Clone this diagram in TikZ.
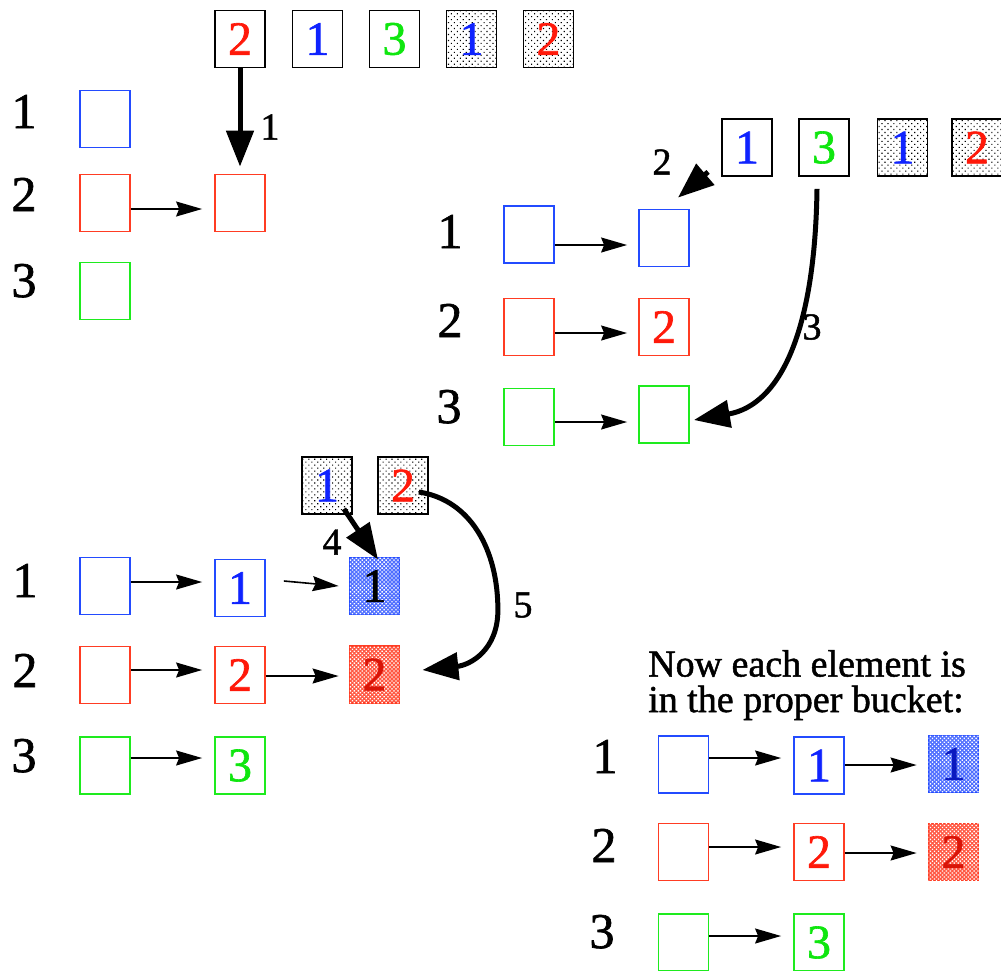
\documentclass[tikz,border=0pt]{standalone}
\usepackage{fontspec}
\setmainfont{Liberation Serif}[FakeBold=1.3]
\usetikzlibrary{arrows.meta,patterns.meta}
\definecolor{cblue}{RGB}{35,75,255}
\definecolor{dblue}{RGB}{15,35,255}
\definecolor{cred}{RGB}{255,60,35}
\definecolor{dred}{RGB}{255,25,10}
\definecolor{cgreen}{RGB}{30,235,30}
\definecolor{dgreen}{RGB}{15,230,15}
\tikzset{
  bx/.style={rectangle, line width=1.8pt, minimum width=50pt, minimum height=57pt, inner sep=0pt, font=\fontsize{48}{48}\selectfont},
  ebox/.style={bx, draw=black},
  gdot/.style={fill=white, postaction={pattern={Dots[distance=4.2pt,radius=0.8pt,angle=45]}, pattern color=black}},
  bluebox/.style={bx, draw=cblue},
  redbox/.style={bx, draw=cred},
  greenbox/.style={bx, draw=cgreen},
  bfill/.style={fill=cblue!80, postaction={pattern={Dots[distance=2.8pt,radius=0.95pt,angle=45]}, pattern color=white}},
  rfill/.style={fill=cred!85, postaction={pattern={Dots[distance=2.8pt,radius=0.95pt,angle=45]}, pattern color=white}},
  lab/.style={font=\fontsize{50}{50}\selectfont, inner sep=0pt, anchor=base},
  alab/.style={font=\fontsize{38}{38}\selectfont, inner sep=0pt},
  link/.style={line width=1.6pt, -{Stealth[length=26pt,width=15pt,inset=3pt]}},
  move/.style={line width=5pt, -{Triangle[length=36pt,width=27pt]}},
}
\begin{document}
\begin{tikzpicture}[x=1pt,y=-1pt]
\useasboundingbox (0,0) rectangle (1001,970);

% ---------- top row ----------
\node[ebox, text=dred]   (t1) at (240,39) {2};
\node[ebox, text=dblue]  (t2) at (317.5,39) {1};
\node[ebox, text=dgreen] (t3) at (394.5,39) {3};
\node[ebox, gdot, text=dblue] (t4) at (471.5,39) {1};
\node[ebox, gdot, text=dred]  (t5) at (548.5,39) {2};

% ---------- section A ----------
\node[lab] (la1) at (24,128) {1};
\node[lab] (la2) at (24,211) {2};
\node[lab] (la3) at (24,297) {3};
\node[bluebox]  (a11) at (105,119) {};
\node[redbox]   (a21) at (105,203) {};
\node[greenbox] (a31) at (105,291) {};
\node[redbox]   (a22) at (240,203) {};
\draw[link] ([shift={(0,6)}]a21.east) -- ([shift={(-12,6)}]a22.west);
\draw[move, shorten >=7pt] (t1.south) -- (a22.north);
\node[alab] (n1) at (270,127) {1};

% ---------- section B ----------
\node[ebox, text=dblue]  (u1) at (747,147.5) {1};
\node[ebox, text=dgreen] (u2) at (824,147.5) {3};
\node[ebox, gdot, text=dblue] (u3) at (902.5,147.5) {1};
\node[ebox, gdot, text=dred]  (u4) at (977,147.5) {2};
\node[lab] (lb1) at (450,248) {1};
\node[lab] (lb2) at (450,337) {2};
\node[lab] (lb3) at (449,423) {3};
\node[bluebox]  (b11) at (529,234.5) {};
\node[redbox]   (b21) at (529,327) {};
\node[greenbox] (b31) at (529,417) {};
\node[bluebox]  (b12) at (664,238) {};
\node[redbox, text=dred] (b22) at (664,327) {2};
\node[greenbox] (b32) at (664,414.5) {};
\draw[link] ([shift={(0,10.5)}]b11.east) -- ([shift={(-11,7)}]b12.west);
\draw[link] ([shift={(0,6)}]b21.east) -- ([shift={(-11,6)}]b22.west);
\draw[link] ([shift={(0,5)}]b31.east) -- ([shift={(-11,7.5)}]b32.west);
\draw[move] ([shift={(-13,-5)}]u1.south west) -- ([shift={(14,-11)}]b12.north);
\node[alab] (n2) at (662,162) {2};
\draw[move] ([shift={(-7,12)}]u2.south) .. controls +(-2,141) and +(87,-15) .. ([shift={(4,5.5)}]b32.east);
\node[alab] (n3) at (812,327) {3};

% ---------- section C ----------
\node[ebox, gdot, text=dblue] (v1) at (327,485.5) {1};
\node[ebox, gdot, text=dred]  (v2) at (403,485.5) {2};
\node[lab] (lc1) at (25,597) {1};
\node[lab] (lc2) at (25,687) {2};
\node[lab] (lc3) at (24,772) {3};
\node[bluebox]  (c11) at (105,586) {};
\node[redbox]   (c21) at (105,675) {};
\node[greenbox] (c31) at (105,765.5) {};
\node[bluebox, text=dblue]   (c12) at (240,588) {1};
\node[redbox, text=dred]     (c22) at (240,675) {2};
\node[greenbox, text=dgreen] (c32) at (240,765.5) {3};
\node[bluebox, bfill, text=black] (c13) at (374.5,586) {1};
\node[redbox, rfill, text=dred!85!black]   (c23) at (374.5,674.5) {2};
\draw[link] ([shift={(0,-4)}]c11.east) -- ([shift={(-12,-6)}]c12.west);
\draw[link] ([shift={(0,-5)}]c21.east) -- ([shift={(-12,-5)}]c22.west);
\draw[link] ([shift={(0,-7.5)}]c31.east) -- ([shift={(-12,-7.5)}]c32.west);
\draw[link] ([shift={(18,-7)}]c12.east) -- ([shift={(-10,0)}]c13.west);
\draw[link] ([shift={(0,1)}]c22.east) -- ([shift={(-10,1.5)}]c23.west);
\draw[move] ([shift={(-9,-6)}]v1.south east) -- ([shift={(3.5,3)}]c13.north);
\node[alab] (n4) at (332,542) {4};
\draw[move] ([shift={(-10,6.5)}]v2.east) .. controls +(52,8) and +(0,-60) .. ++(79,118)
   .. controls +(0,40) and +(48,-5) .. ([shift={(22,-4.5)}]c23.east);
\node[alab] (n5) at (523,605) {5};

% ---------- section D ----------
\node[anchor=base west, align=left, inner sep=0pt, font=\fontsize{38}{35.5}\selectfont] (txt) at (648,712) {Now each element is\\in the proper bucket:};
\node[lab] (ld1) at (605,773) {1};
\node[lab] (ld2) at (604,862) {2};
\node[lab] (ld3) at (602,948) {3};
\node[bluebox]  (d11) at (683.5,764.5) {};
\node[redbox]   (d21) at (683.5,852) {};
\node[greenbox] (d31) at (683.5,942.5) {};
\node[bluebox, text=dblue]   (d12) at (819,765.5) {1};
\node[redbox, text=dred]     (d22) at (819,852) {2};
\node[greenbox, text=dgreen] (d32) at (819,942.5) {3};
\node[bluebox, bfill, text=dblue!75!black] (d13) at (953.5,764) {1};
\node[redbox, rfill, text=dred!85!black]   (d23) at (953.5,852) {2};
\draw[link] ([shift={(0,-6.5)}]d11.east) -- ([shift={(-12,-7.5)}]d12.west);
\draw[link] ([shift={(0,-0.5)}]d12.east) -- ([shift={(-11,1)}]d13.west);
\draw[link] ([shift={(0,-5)}]d21.east) -- ([shift={(-12,-5)}]d22.west);
\draw[link] ([shift={(0,1)}]d22.east) -- ([shift={(-11,1)}]d23.west);
\draw[link] ([shift={(0,-6.5)}]d31.east) -- ([shift={(-12,-6.5)}]d32.west);
\end{tikzpicture}
\end{document}
